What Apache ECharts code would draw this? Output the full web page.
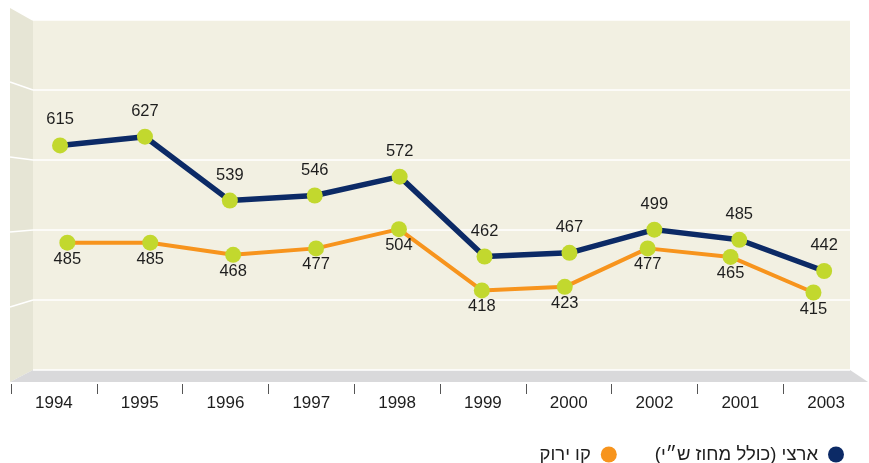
<!DOCTYPE html>
<html>
<head>
<meta charset="utf-8">
<script src="https://cdn.jsdelivr.net/npm/echarts@6/dist/echarts.min.js"></script>
<style>
  html, body { margin: 0; padding: 0; background: #ffffff; }
  #chart { width: 869px; height: 463px; }
</style>
</head>
<body>
<div id="chart"></div>
<script>
// Category order as printed along the floor of the chart
const years = ['1994', '1995', '1996', '1997', '1998', '1999', '2000', '2002', '2001', '2003'];
// ארצי (כולל מחוז ש״י)
const nationalValues = [615, 627, 539, 546, 572, 462, 467, 499, 485, 442];
// קו ירוק
const greenLineValues = [485, 485, 468, 477, 504, 418, 423, 477, 465, 415];
// Value scale shared by the walls and both lines
const yMin = 300;
const yMax = 800;
const yStep = 100;
const nationalName = 'ארצי (כולל מחוז ש״י)\u200F';
const greenLineName = 'קו ירוק';

const FONT = "'Liberation Sans', Arial, Helvetica, sans-serif";

// Box geometry: back wall, front edge and the two depth planes the lines sit on
const backWall = { left: 33, top: 20, width: 817, height: 350 };
const frontPlane = { left: 11, top: 7, width: 867, height: 375 };
const nationalPlane = { left: 17.6, top: 11.1, width: 849, height: 363 };
const greenPlane = { left: 25.9, top: 18.4, width: 829, height: 356 };
const floorRightFront = 868;

const chart = echarts.init(document.getElementById('chart'), null, { renderer: 'canvas' });

const hiddenY = { type: 'value', min: yMin, max: yMax, interval: yStep, show: false };
const hiddenX = (grid) => ({ type: 'category', data: years, gridIndex: grid, show: false, boundaryGap: true });

const option = {
  animation: false,
  backgroundColor: '#ffffff',
  textStyle: { fontFamily: FONT },
  grid: [
    Object.assign({ show: true, backgroundColor: '#f2f0e2', borderWidth: 0 }, backWall),
    Object.assign({}, frontPlane),
    Object.assign({}, nationalPlane),
    Object.assign({}, greenPlane)
  ],
  xAxis: [
    hiddenX(0),
    {
      type: 'category',
      data: years,
      gridIndex: 1,
      boundaryGap: true,
      offset: 2,
      axisLine: { show: false },
      axisTick: { show: true, length: 10, lineStyle: { color: '#555555', width: 1 } },
      axisLabel: { color: '#1e1e1e', fontSize: 17, fontFamily: FONT, margin: 11 }
    },
    hiddenX(2),
    hiddenX(3)
  ],
  yAxis: [
    {
      type: 'value', gridIndex: 0, min: yMin, max: yMax, interval: yStep,
      axisLine: { show: false }, axisTick: { show: false }, axisLabel: { show: false },
      splitLine: { show: true, lineStyle: { color: '#ffffff', width: 1.5 } }
    },
    Object.assign({ gridIndex: 1 }, hiddenY),
    Object.assign({ gridIndex: 2 }, hiddenY),
    Object.assign({ gridIndex: 3 }, hiddenY)
  ],
  legend: {
    right: 20,
    top: 440,
    orient: 'horizontal',
    align: 'right',
    icon: 'circle',
    itemWidth: 26,
    itemHeight: 16,
    itemGap: 38,
    selectedMode: false,
    textStyle: { fontSize: 18.5, color: '#1e1e1e', fontFamily: FONT },
    data: [
      { name: greenLineName, itemStyle: { color: '#f7941d' } },
      { name: nationalName, itemStyle: { color: '#0c2a66' } }
    ]
  },
  series: [
    {
      name: greenLineName,
      type: 'line',
      xAxisIndex: 3,
      yAxisIndex: 3,
      data: greenLineValues,
      symbol: 'circle',
      symbolSize: 16,
      lineStyle: { color: '#f7941d', width: 4 },
      itemStyle: { color: '#c2d82e' },
      label: {
        show: true, position: 'bottom', distance: 0,
        color: '#1e1e1e', fontSize: 16.5, fontFamily: FONT
      },
      z: 3
    },
    {
      name: nationalName,
      type: 'line',
      xAxisIndex: 2,
      yAxisIndex: 2,
      data: nationalValues,
      symbol: 'circle',
      symbolSize: 16,
      lineStyle: { color: '#0c2a66', width: 5.5 },
      itemStyle: { color: '#c2d82e' },
      label: {
        show: true, position: 'top', distance: 9,
        color: '#1e1e1e', fontSize: 16.5, fontFamily: FONT
      },
      z: 4
    }
  ]
};

chart.setOption(option);

// Side wall, floor and the wall's grid lines, joined to the back wall's value scale
function drawBox() {
  const backLeft = backWall.left;
  const backRight = backWall.left + backWall.width;
  const backTop = backWall.top;
  const backBottom = backWall.top + backWall.height;
  const frontLeft = frontPlane.left - 1;
  const frontTop = frontPlane.top;
  const frontBottom = frontPlane.top + frontPlane.height;

  const elements = [
    {
      type: 'polygon', z: -1, silent: true,
      shape: { points: [[frontLeft, frontTop], [backLeft, backTop], [backLeft, backBottom], [frontLeft, frontBottom]] },
      style: { fill: '#e6e5d5' }
    },
    {
      type: 'polygon', z: -1, silent: true,
      shape: { points: [[frontLeft, frontBottom], [backLeft, backBottom], [backRight, backBottom], [floorRightFront, frontBottom]] },
      style: { fill: '#d9d9db' }
    }
  ];

  for (let v = yMin + yStep; v <= yMax; v += yStep) {
    const yBack = chart.convertToPixel({ yAxisIndex: 0 }, v);
    const yFront = chart.convertToPixel({ yAxisIndex: 1 }, v);
    elements.push({
      type: 'line', z: 0, silent: true,
      shape: { x1: frontLeft, y1: yFront, x2: backLeft, y2: yBack },
      style: { stroke: '#ffffff', lineWidth: 1.5 }
    });
  }

  chart.setOption({ graphic: { elements: elements } });
}

drawBox();
</script>
</body>
</html>
